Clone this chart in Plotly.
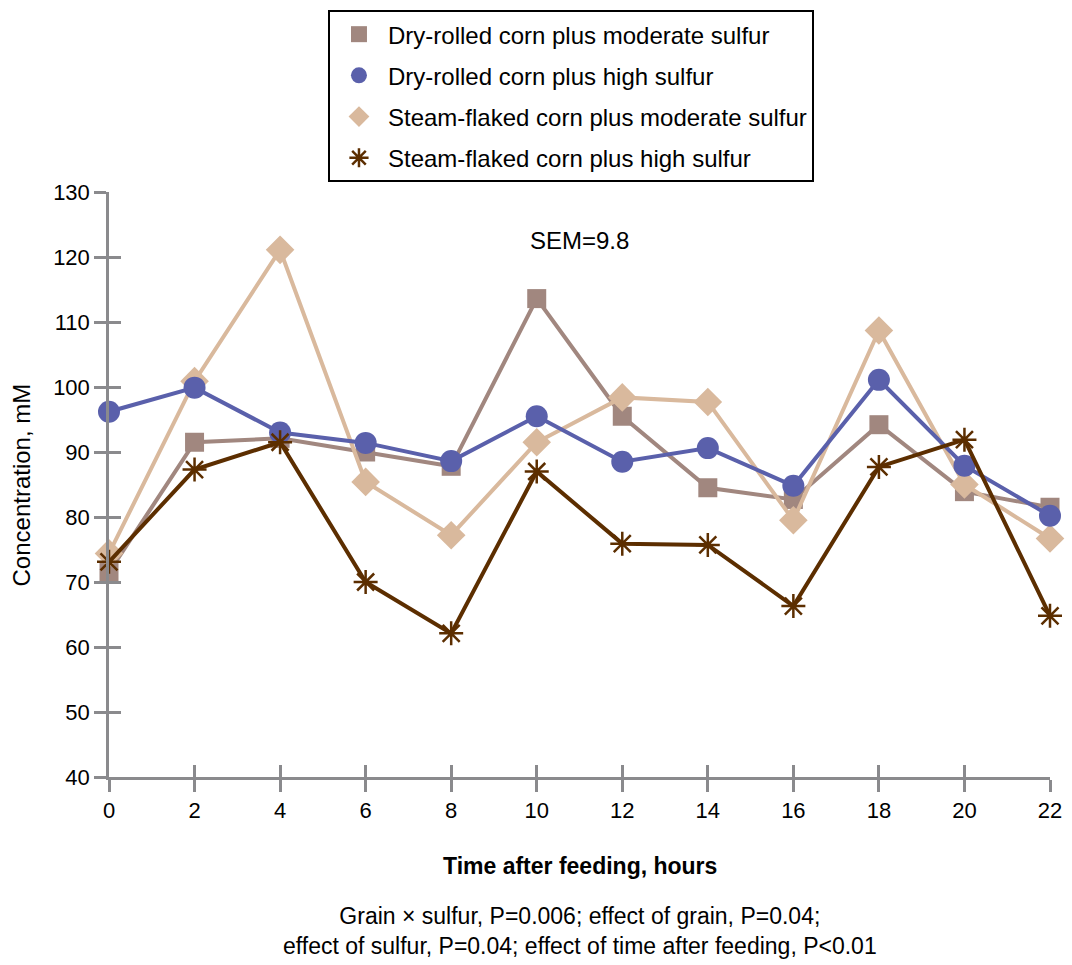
import plotly.graph_objects as go

hours = [0, 2, 4, 6, 8, 10, 12, 14, 16, 18, 20, 22]
dr_moderate = [71.5, 91.5, 92.1, 90.0, 87.8, 113.6, 95.5, 84.5, 82.7, 94.2, 83.9, 81.5]
dr_high = [96.2, 99.9, 93.0, 91.4, 88.6, 95.5, 88.5, 90.6, 84.8, 101.1, 87.9, 80.2]
sf_moderate = [74.4, 100.9, 121.1, 85.4, 77.2, 91.5, 98.4, 97.7, 79.5, 108.7, 85.0, 76.7]
sf_high = [73.1, 87.3, 91.5, 70.0, 62.1, 87.0, 75.9, 75.7, 66.3, 87.7, 91.9, 64.8]

names = [
    "Dry-rolled corn plus moderate sulfur",
    "Dry-rolled corn plus high sulfur",
    "Steam-flaked corn plus moderate sulfur",
    "Steam-flaked corn plus high sulfur",
]
colors = ["#a1877f", "#5a60ab", "#d9b99d", "#5c2e00"]
symbols = ["square", "circle", "diamond", "asterisk-open"]
sizes = [19, 22, 22, 20]
series = [dr_moderate, dr_high, sf_moderate, sf_high]

FONT = "Liberation Sans, Arial, sans-serif"
AXIS_GRAY = "#8a8a8d"

fig = go.Figure()

# draw order: square, diamond, circle, star
for i in [0, 2, 1, 3]:
    mk = dict(symbol=symbols[i], size=sizes[i], color=colors[i])
    if symbols[i] == "asterisk-open":
        mk["line"] = dict(color=colors[i], width=2.5)
    fig.add_trace(go.Scatter(
        x=hours, y=series[i], mode="lines+markers",
        line=dict(color=colors[i], width=4),
        marker=mk, showlegend=False, cliponaxis=False,
        hoverinfo="skip",
    ))

# legend-only entries (markers only)
for i in range(4):
    mk = dict(symbol=symbols[i], size=16, color=colors[i])
    if symbols[i] == "asterisk-open":
        mk["line"] = dict(color=colors[i], width=2.5)
    fig.add_trace(go.Scatter(
        x=[None], y=[None], mode="markers", name=names[i],
        marker=mk, legendgroup=f"g{i}", showlegend=True,
    ))

axis_common = dict(
    showline=True, linecolor=AXIS_GRAY, linewidth=2.5,
    showgrid=False, zeroline=False, automargin=False,
    tickcolor=AXIS_GRAY, tickwidth=2.5, ticklen=12,
)

fig.update_layout(
    width=1072, height=965,
    margin=dict(l=109, r=22, t=192, b=188, autoexpand=False),
    paper_bgcolor="white", plot_bgcolor="white",
    font=dict(family=FONT, size=22, color="black"),
    xaxis=dict(range=[0, 22], tickmode="array", tickvals=hours,
               ticks="outside", tickfont=dict(size=22), **axis_common),
    yaxis=dict(range=[40, 130], tickmode="array",
               tickvals=list(range(40, 131, 10)),
               ticks="outside", tickfont=dict(size=22), **axis_common),
    xaxis2=dict(range=[0, 22], tickmode="array", tickvals=hours,
                ticks="inside", showticklabels=False, overlaying="x",
                anchor="y", side="bottom", **axis_common),
    yaxis2=dict(range=[40, 130], tickmode="array",
                tickvals=list(range(40, 131, 10)),
                ticks="inside", showticklabels=False, overlaying="y",
                anchor="x", side="left", **axis_common),
    legend=dict(
        x=0.2327, y=1.311, xanchor="left", yanchor="top",
        bordercolor="black", borderwidth=2, bgcolor="white",
        font=dict(family=FONT, size=24, color="black"),
        tracegroupgap=7, itemsizing="trace", itemwidth=48,
    ),
    annotations=[
        dict(text="SEM=9.8", x=11, y=122.6, xref="x", yref="y",
             xanchor="center", yanchor="middle",
             showarrow=False, font=dict(size=24)),
        dict(text="Concentration, mM", x=-0.0925, y=0.5, xref="paper",
             yref="paper", textangle=-90, showarrow=False,
             xanchor="center", yanchor="middle",
             font=dict(size=24)),
        dict(text="<b>Time after feeding, hours</b>", x=0.5, y=-0.152,
             xref="paper", yref="paper", showarrow=False,
             xanchor="center", yanchor="middle",
             font=dict(size=23)),
        dict(text="Grain × sulfur, P=0.006; effect of grain, P=0.04;<br>"
                  "effect of sulfur, P=0.04; effect of time after feeding, P<0.01",
             x=0.5, y=-0.264, xref="paper", yref="paper", showarrow=False,
             xanchor="center", yanchor="middle",
             font=dict(size=23)),
    ],
)

# dummy invisible trace so overlay axes render
fig.add_trace(go.Scatter(x=[None], y=[None], xaxis="x2", yaxis="y2",
                         showlegend=False, hoverinfo="skip"))

fig.write_html(
    "out.html",
    config={"displayModeBar": False},
    post_script="document.body.style.margin='0';"
                "document.documentElement.style.overflow='hidden';",
)
